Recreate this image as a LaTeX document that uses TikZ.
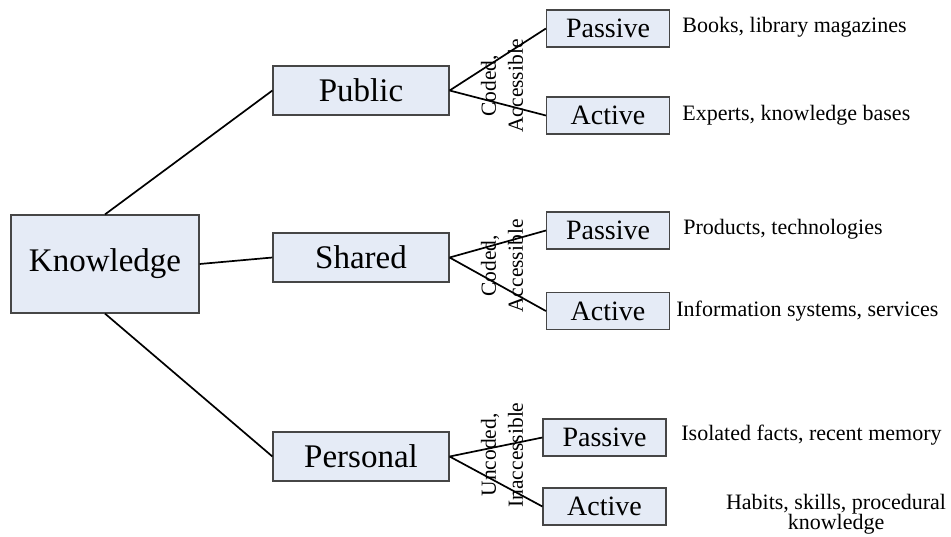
\documentclass[tikz,border=0pt]{standalone}
\usepackage{fontspec}
\setmainfont{Liberation Serif}
\definecolor{boxfill}{RGB}{229,235,246}
\definecolor{boxline}{RGB}{70,70,70}
\begin{document}
\begin{tikzpicture}[x=0.5pt,y=-0.5pt,
  box/.style={draw=boxline,line width=0.6pt,fill=boxfill,inner sep=0pt,anchor=center},
  rootbox/.style={box,minimum width=94pt,minimum height=49pt,font=\fontsize{16.5}{19}\selectfont},
  midbox/.style={box,minimum width=88pt,minimum height=24.5pt,font=\fontsize{16.5}{19}\selectfont},
  leafbox/.style={box,minimum width=61.5pt,minimum height=18.5pt,font=\fontsize{14}{16}\selectfont},
  desc/.style={inner sep=0pt,anchor=west,font=\fontsize{11}{13}\selectfont},
  tag/.style={inner sep=0pt,rotate=90,align=center,font=\fontsize{10.75}{13.5}\selectfont},
  link/.style={line width=0.85pt,black}]
\useasboundingbox (0,0) rectangle (951,536);

% root
\node[rootbox] (know) at (105,264) {Knowledge};

% first level
\node[midbox] (pub) at (361,90.5) {Public};
\node[midbox] (sha) at (361,257.5) {Shared};
\node[midbox] (per) at (361,456.5) {Personal};

% second level
\node[leafbox] (pubp) at (608,28.5) {Passive};
\node[leafbox] (puba) at (608,115.5) {Active};
\node[leafbox] (shap) at (608,230.5) {Passive};
\node[leafbox] (shaa) at (608,311) {Active};
\node[leafbox] (perp) at (604.5,437.5) {Passive};
\node[leafbox] (pera) at (604.5,506.5) {Active};

% connectors
\draw[link] (know.north) -- (pub.west);
\draw[link] (know.east) -- (sha.west);
\draw[link] (know.south) -- (per.west);
\foreach \a/\b in {pub/pubp,pub/puba,sha/shap,sha/shaa,per/perp,per/pera}
  \draw[link] (\a.east) -- (\b.west);

% branch labels
\node[tag] (tpub) at (502,86) {Coded,\\Accessible};
\node[tag] (tsha) at (502,266) {Coded,\\Accessible};
\node[tag] (tper) at (502,455) {Uncoded,\\Inaccessible};

% descriptions
\node[desc] (d1) at (682,27) {Books, library magazines};
\node[desc] (d2) at (682,115) {Experts, knowledge bases};
\node[desc] (d3) at (683,229) {Products, technologies};
\node[desc] (d4) at (676,311) {Information systems, services};
\node[desc] (d5) at (681,435) {Isolated facts, recent memory};
\node[inner sep=0pt,align=center,font=\fontsize{11}{10}\selectfont] (d6) at (836,514) {Habits, skills, procedural\\knowledge};
\end{tikzpicture}
\end{document}
